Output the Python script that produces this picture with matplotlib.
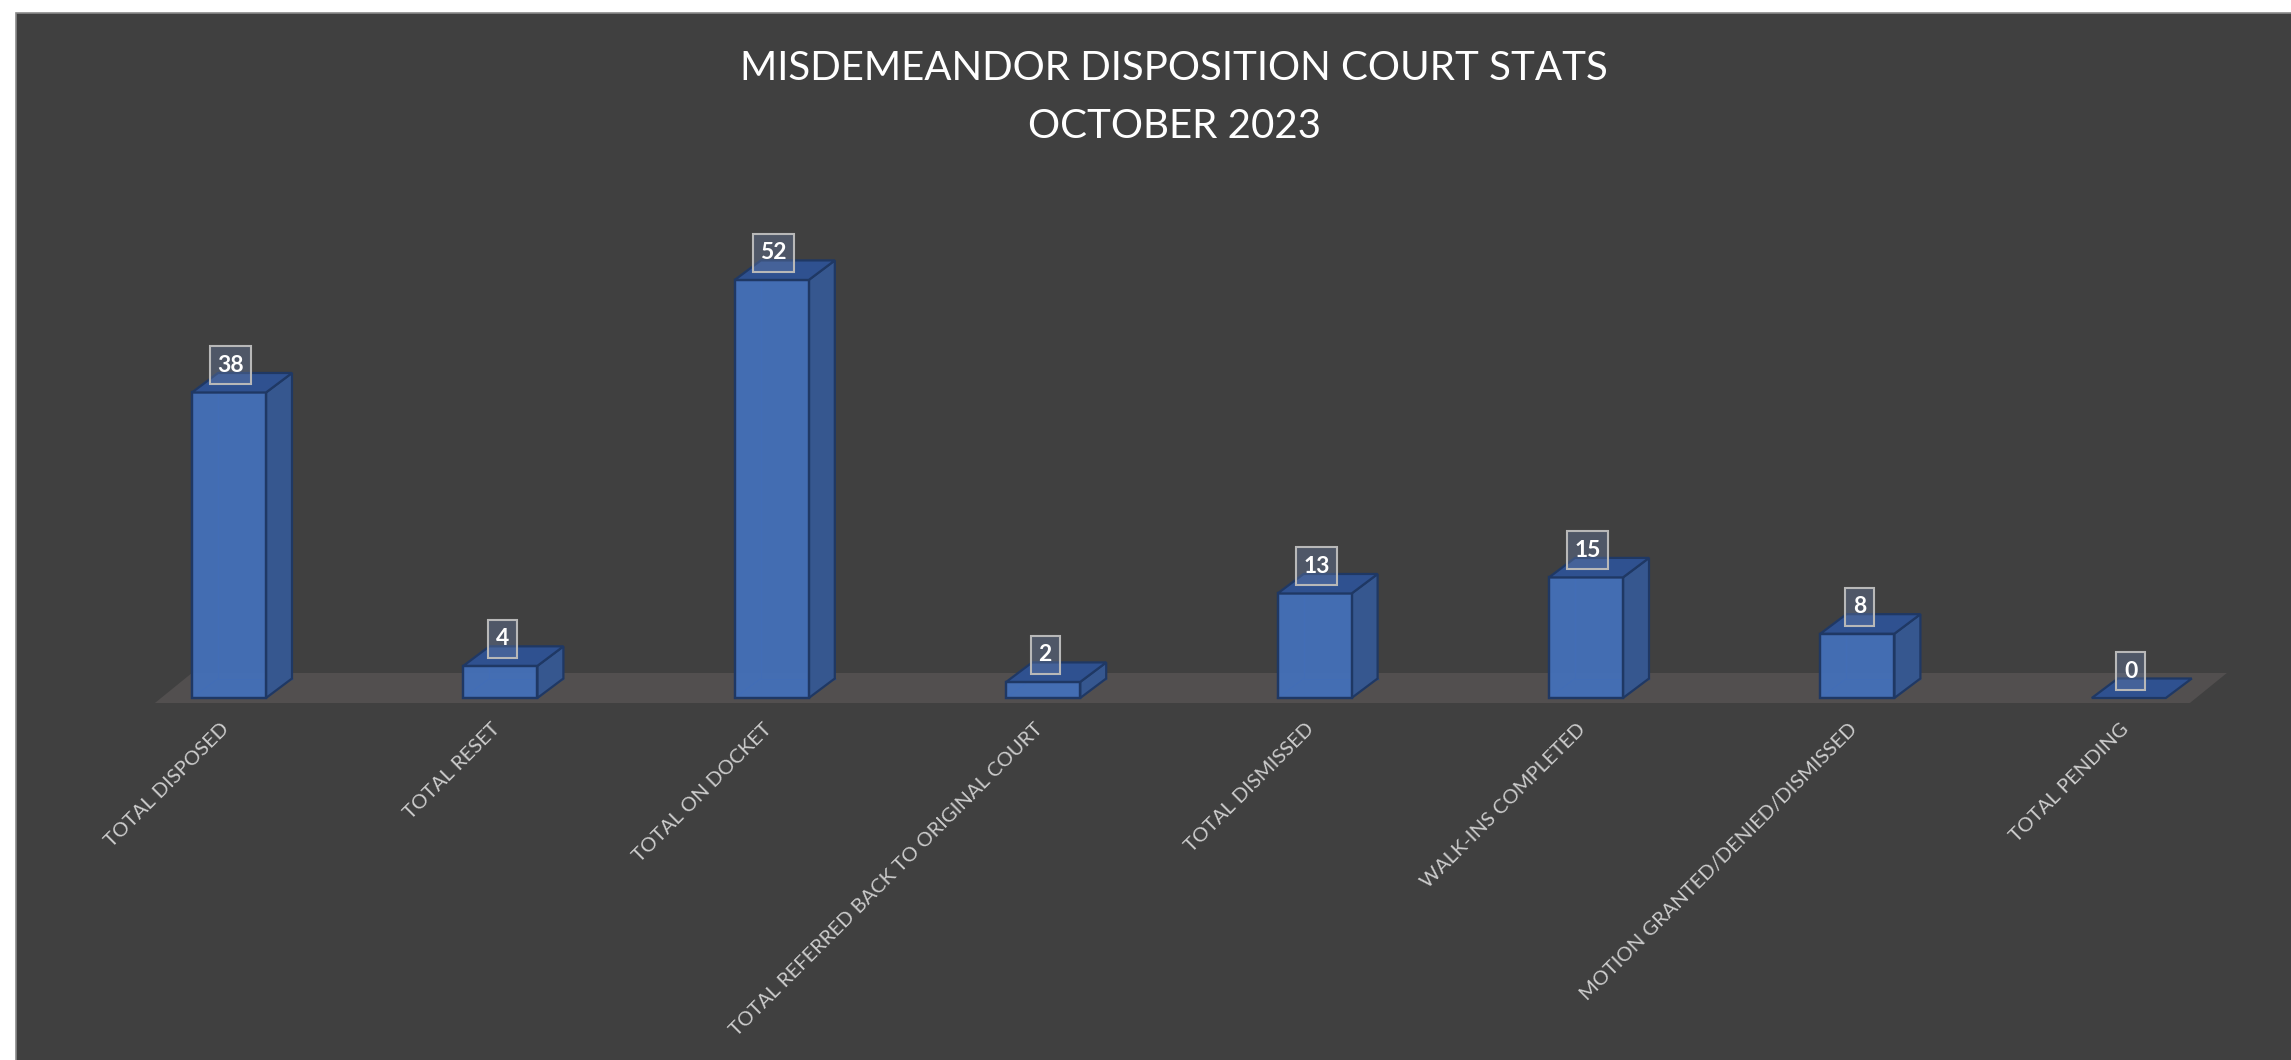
import matplotlib.pyplot as plt
from matplotlib.patches import Polygon, Rectangle
from matplotlib.transforms import ScaledTranslation

categories = ["TOTAL DISPOSED", "TOTAL RESET", "TOTAL ON DOCKET",
              "TOTAL REFERRED BACK TO ORIGINAL COURT", "TOTAL DISMISSED",
              "WALK-INS COMPLETED", "MOTION GRANTED/DENIED/DISMISSED",
              "TOTAL PENDING"]
values = [38, 4, 52, 2, 13, 15, 8, 0]
title_lines = ["MISDEMEANDOR DISPOSITION COURT STATS", "OCTOBER 2023"]

W, H = 2291, 1060
fig = plt.figure(figsize=(W / 100, H / 100), dpi=100, facecolor="white")

# dark chart area with thin grey border (left/top)
fig.patches.append(Rectangle((16 / W, -0.01), 1.01, 1 - 13 / H + 0.01,
                             transform=fig.transFigure, fc="#404040",
                             ec="#8a8a8a", lw=1.2, zorder=-10))

n = len(values)
px_x = 271.4   # pixels per category
px_y = 8.04    # pixels per unit
ax = fig.add_axes([(229 - 0.5 * px_x) / W, (H - 698) / H,
                   n * px_x / W, 60 * px_y / H])
ax.set_xlim(-0.5, n - 0.5)
ax.set_ylim(0, 60)
ax.patch.set_visible(False)
for s in ax.spines.values():
    s.set_visible(False)
ax.set_yticks([])

w = 74 / px_x          # bar front width
dx = 26 / px_x         # depth offset
dy = 19.5 / px_y

# floor
fl, fr = -0.273, n - 1 + 0.225
f0, f1 = -5 / px_y, 25 / px_y
fdx = 37 / px_x
ax.add_patch(Polygon([(fl, f0), (fr, f0), (fr + fdx, f1), (fl + fdx, f1)],
                     closed=True, fc="#524f4f", ec="none", zorder=1,
                     clip_on=False))

front_c, side_c, top_c, edge_c = "#4470b9", "#36578f", "#2f5190", "#1f3864"
for i, v in enumerate(values):
    x0, x1 = i - w / 2, i + w / 2
    if v > 0:
        # faint hidden back edges seen through the glassy front
        ax.plot([x0 + dx, x0 + dx, x1 + dx], [v + dy, dy, dy], color="#2a4a86",
                lw=1, zorder=2, clip_on=False)
        ax.plot([x0, x0 + dx], [0, dy], color="#2a4a86", lw=1, zorder=2,
                clip_on=False)
        ax.add_patch(Polygon([(x1, 0), (x1 + dx, dy), (x1 + dx, v + dy), (x1, v)],
                             fc=side_c, ec=edge_c, lw=1.6, zorder=3,
                             clip_on=False))
        ax.add_patch(Polygon([(x0, 0), (x1, 0), (x1, v), (x0, v)],
                             fc=front_c, ec=edge_c, lw=1.6, alpha=0.95,
                             zorder=4, clip_on=False))
        ax.add_patch(Polygon([(x0, 0), (x1, 0), (x1, v), (x0, v)],
                             fc="none", ec=edge_c, lw=1.6, zorder=4,
                             clip_on=False))
    ax.add_patch(Polygon([(x0, v), (x1, v), (x1 + dx, v + dy), (x0 + dx, v + dy)],
                         fc=top_c, ec=edge_c, lw=1.6, zorder=4, clip_on=False))

    # value label box
    bw = (17 + 12 * len(str(v))) / px_x
    bh = 38 / px_y
    cx, cy = i + 0.007, v + 27 / px_y
    ax.add_patch(Rectangle((cx - bw / 2, cy - bh / 2), bw, bh, fc="#6a7fa8",
                           ec="none", alpha=0.38, zorder=5, clip_on=False))
    ax.add_patch(Rectangle((cx - bw / 2, cy - bh / 2), bw, bh, fc="none",
                           ec="#b8b8b8", lw=1.5, zorder=6, clip_on=False))
    ax.text(cx, cy, str(v), ha="center", va="center", color="white",
            fontsize=16.5, fontweight="bold", family="Lato", zorder=7)

ax.set_xticks(range(n))
ax.set_xticklabels(categories, rotation=45, ha="right", rotation_mode="anchor",
                   family="Lato", fontsize=14.5, color="#cccccc")
ax.tick_params(axis="x", length=0, pad=16)
shift = ScaledTranslation(-9 / 100, 0, fig.dpi_scale_trans)
for lab in ax.get_xticklabels():
    lab.set_transform(lab.get_transform() + shift)

fig.text(1174 / W, 1 - 80 / H, title_lines[0], ha="center", va="baseline",
         color="white", fontsize=29, family="Lato")
fig.text(1174 / W, 1 - 138 / H, title_lines[1], ha="center", va="baseline",
         color="white", fontsize=29, family="Lato")

fig.savefig("out.png", dpi=100, facecolor="white")
